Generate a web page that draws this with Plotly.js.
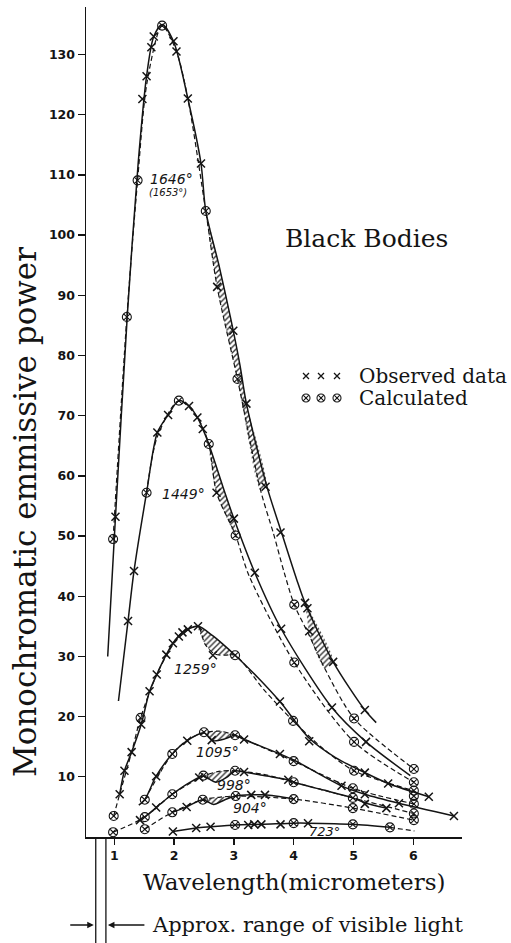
<!DOCTYPE html>
<html><head><meta charset="utf-8">
<script src="https://cdn.plot.ly/plotly-3.0.1.min.js"></script>
<style>html,body{margin:0;padding:0;background:#fff;}#chart{width:511px;height:943px;}</style>
</head><body><div id="chart"></div>
<script>
// ---------- DATA (wavelength in micrometers, monochromatic emissive power) ----------
const temperatures = ['1646', '1449', '1259', '1095', '998', '904', '723'];

// observed data points (x marks)
const obs1646 = [[1.02,53.2],[1.47,122.6],[1.54,126.4],[1.62,131.2],[1.66,133.0],[1.99,132.2],[2.04,130.5],[2.23,122.7],[2.45,111.9],[2.72,91.4],[2.99,84.1],[3.21,72.0],[3.53,58.2],[3.78,50.6],[4.19,38.9],[4.23,38.0],[4.26,34.2],[4.66,29.1],[5.19,21.1]];
const obs1449 = [[1.23,35.9],[1.33,44.2],[1.72,67.2],[1.90,70.1],[2.25,71.6],[2.39,69.7],[2.48,67.8],[2.71,57.2],[3.00,52.9],[3.35,43.9],[3.79,34.6],[4.64,21.5],[5.21,15.8]];
const obs1259 = [[1.09,7.1],[1.17,11.0],[1.29,14.1],[1.45,18.7],[1.59,24.2],[1.71,27.0],[1.87,30.3],[1.98,32.2],[2.08,33.3],[2.14,34.0],[2.23,34.5],[2.40,35.0],[2.65,30.2],[3.77,22.5],[4.26,15.9],[5.19,10.7],[5.58,8.9],[6.26,6.7]];
const obs1095 = [[1.70,10.1],[2.22,16.0],[2.63,16.1],[3.17,16.2],[3.77,13.8],[4.80,8.5],[5.19,7.1],[5.76,5.6],[6.68,3.5]];
const obs998  = [[1.43,2.8],[1.70,4.9],[2.42,9.9],[3.17,10.8],[3.91,9.5],[5.19,5.5],[5.55,4.8]];
const obs904  = [[2.21,5.0],[3.29,7.0],[3.52,7.0]];
const obs723  = [[1.98,0.9],[2.37,1.5],[2.61,1.7],[3.24,2.0],[3.34,2.1],[3.46,2.1],[3.78,2.1],[4.24,2.3]];

// calculated points (circled crosses)
const calc1646 = [[0.98,49.5],[1.21,86.4],[1.39,109.1],[1.80,134.8],[2.53,104.0],[3.06,76.1],[4.01,38.6],[5.01,19.7],[6.01,11.3]];
const calc1449 = [[1.54,57.2],[2.08,72.5],[2.58,65.3],[3.03,50.1],[4.01,29.0],[5.01,15.8],[6.01,9.1]];
const calc1259 = [[0.99,3.5],[1.44,19.8],[3.02,30.2],[3.99,19.3],[5.01,11.0],[6.01,7.7],[6.01,6.8]];
const calc1095 = [[1.51,6.2],[1.97,13.8],[2.50,17.4],[3.02,16.9],[4.00,12.6],[4.99,8.1],[6.01,5.5]];
const calc998  = [[0.98,0.8],[1.51,3.3],[1.97,7.1],[2.49,10.2],[3.02,11.0],[4.00,9.1],[4.99,6.5],[6.01,3.9]];
const calc904  = [[1.51,1.3],[1.97,4.1],[2.48,6.2],[3.03,6.8],[4.00,6.3],[4.99,4.8],[6.01,2.8]];
const calc723  = [[3.02,2.0],[4.00,2.3],[4.99,2.1],[5.61,1.6]];

// observed curves (solid lines)
const solid1646 = [[0.89,30.0],[1.02,53.2],[1.22,87.0],[1.40,112.0],[1.54,126.4],[1.66,133.0],[1.80,135.0],[1.99,132.2],[2.23,122.7],[2.45,111.9],[2.53,104.0],[2.75,95.0],[2.95,86.0],[3.10,78.5],[3.21,72.0],[3.55,58.3],[3.80,50.5],[4.05,42.8],[4.19,38.9],[4.66,29.1],[5.19,21.1],[5.38,19.0]];
const solid1449 = [[1.07,22.6],[1.23,35.9],[1.33,44.2],[1.54,57.2],[1.72,67.2],[1.90,70.1],[2.08,72.5],[2.25,71.6],[2.39,69.7],[2.48,67.8],[2.58,65.3],[2.85,57.2],[3.00,52.9],[3.35,43.9],[3.79,34.6],[4.64,21.5],[5.21,15.8],[5.95,10.2]];
const solid1259 = [[1.09,7.1],[1.17,11.0],[1.29,14.1],[1.45,18.7],[1.59,24.2],[1.71,27.0],[1.87,30.3],[1.98,32.2],[2.14,34.0],[2.40,35.0],[2.65,33.4],[2.82,32.0],[3.02,30.2],[3.40,26.5],[3.77,22.5],[4.26,16.4],[4.70,13.2],[5.19,10.7],[5.58,8.9],[6.26,6.7]];
const solid1095 = [[1.41,5.3],[1.51,6.2],[1.70,10.1],[1.97,13.8],[2.22,16.0],[2.50,17.3],[2.65,16.0],[2.85,16.3],[3.02,16.9],[3.17,16.2],[3.77,13.8],[4.00,12.8],[4.80,8.5],[5.19,7.1],[5.76,5.6],[6.68,3.5]];
const solid998  = [[1.51,3.3],[1.70,4.9],[1.97,7.1],[2.25,9.0],[2.49,10.1],[2.70,9.1],[2.88,9.9],[3.02,11.0],[3.17,10.8],[3.50,10.2],[3.91,9.5],[4.00,9.1],[4.50,7.8],[4.99,6.5],[5.19,5.7],[5.55,4.8]];
const solid904  = [[1.97,4.1],[2.21,5.0],[2.48,6.2],[2.66,5.4],[2.85,6.2],[3.03,6.8],[3.29,7.0],[3.52,7.0],[4.00,6.3]];
const solid723  = [[1.98,0.9],[2.37,1.5],[2.61,1.7],[3.02,2.0],[3.46,2.1],[4.00,2.3],[4.24,2.3],[4.99,2.1],[5.61,1.6]];

// calculated curves (dashed lines)
const dash1646 = [[0.98,49.5],[1.21,86.4],[1.39,109.1],[1.55,125.5],[1.80,134.8],[2.04,130.5],[2.23,122.7],[2.53,104.0],[2.72,91.4],[3.06,76.1],[3.45,57.5],[3.66,50.5],[3.84,44.0],[4.01,38.6],[4.26,33.5],[4.52,28.0],[5.01,19.7],[6.01,11.3]];
const dash1449 = [[1.54,57.2],[1.72,66.5],[2.08,72.5],[2.39,69.7],[2.58,65.3],[2.71,57.2],[3.03,50.1],[3.25,43.5],[4.01,29.0],[5.01,15.8],[6.01,9.1]];
const dash1259 = [[0.99,3.5],[1.09,7.1],[1.29,14.1],[1.44,19.8],[1.71,27.0],[2.00,32.2],[2.23,34.4],[2.40,35.0],[2.52,32.0],[2.68,30.4],[2.85,30.2],[3.02,30.2],[3.50,24.5],[3.99,19.3],[4.50,14.6],[5.01,11.0],[6.01,7.7]];
const dash1095 = [[1.51,6.2],[1.97,13.8],[2.25,16.3],[2.50,17.3],[2.75,17.6],[3.02,16.9],[3.50,14.8],[4.00,12.6],[4.99,8.1],[6.01,5.5]];
const dash998  = [[0.98,0.8],[1.51,3.3],[1.97,7.1],[2.49,10.1],[2.75,10.9],[3.02,11.0],[3.50,10.4],[4.00,9.1],[4.99,6.5],[6.01,3.9]];
const dash904  = [[1.51,1.3],[1.97,4.1],[2.48,6.2],[2.75,6.6],[3.03,6.8],[4.00,6.3],[4.99,4.8],[6.01,2.8]];
const dash723  = [[5.61,1.6],[6.02,1.0]];

// wavelength spans where observed and calculated curves are hatched
const hatch1646 = [[2.53,3.57],[4.19,4.66]];
const hatch1449 = [[2.58,3.03]];
const hatch1259 = [[2.40,3.02]];
const hatch1095 = [[2.50,3.02]];
const hatch998  = [[2.49,3.02]];
const hatch904  = [[2.48,3.03]];
const hatch723  = [];

const xTickVals = [1, 2, 3, 4, 5, 6];
const xTickText = ['1', '2', '3', '4', '5', '6'];
const yTickVals = [10, 20, 30, 40, 50, 60, 70, 80, 90, 100, 110, 120, 130];
const visibleBand = [0.69, 0.86];   // the two marker lines under the axis (micrometers)

// ---------- BUILD ----------
const series = {
  '1646': {obs: obs1646, calc: calc1646, solid: solid1646, dash: dash1646, hatch: hatch1646},
  '1449': {obs: obs1449, calc: calc1449, solid: solid1449, dash: dash1449, hatch: hatch1449},
  '1259': {obs: obs1259, calc: calc1259, solid: solid1259, dash: dash1259, hatch: hatch1259},
  '1095': {obs: obs1095, calc: calc1095, solid: solid1095, dash: dash1095, hatch: hatch1095},
  '998':  {obs: obs998,  calc: calc998,  solid: solid998,  dash: dash998,  hatch: hatch998},
  '904':  {obs: obs904,  calc: calc904,  solid: solid904,  dash: dash904,  hatch: hatch904},
  '723':  {obs: obs723,  calc: calc723,  solid: solid723,  dash: dash723,  hatch: hatch723}
};
const INK = '#141414';
const xs = a => a.map(p => p[0]);
const ys = a => a.map(p => p[1]);
const inRange = (a, r) => a.filter(p => p[0] >= r[0] - 1e-9 && p[0] <= r[1] + 1e-9);
const OBS_MARK = {symbol: 'x-thin-open', size: 8, color: INK, line: {width: 1.5, color: INK}};
const CALC_MARK = {symbol: 'circle-x-open', size: 9, color: INK, line: {width: 1.1, color: INK}};

const traces = [];
temperatures.forEach(T => {
  const s = series[T];
  s.hatch.forEach(r => {
    const poly = inRange(s.solid, r).concat(inRange(s.dash, r).reverse());
    traces.push({
      type: 'scatter', mode: 'lines', x: xs(poly), y: ys(poly),
      fill: 'toself', fillcolor: 'rgba(0,0,0,0)',
      fillpattern: {shape: '/', fgcolor: '#333', bgcolor: 'rgba(0,0,0,0)', size: 4, solidity: 0.35, fillmode: 'replace'},
      line: {width: 0, shape: 'spline', smoothing: 0.7},
      hoverinfo: 'skip', showlegend: false
    });
  });
  traces.push({
    type: 'scatter', mode: 'lines', name: T + '° calculated',
    x: xs(s.dash), y: ys(s.dash),
    line: {color: INK, width: 1.2, dash: '5px,3px', shape: 'spline', smoothing: 0.8},
    hoverinfo: 'skip', showlegend: false
  });
  traces.push({
    type: 'scatter', mode: 'lines', name: T + '° observed',
    x: xs(s.solid), y: ys(s.solid),
    line: {color: INK, width: 1.5, shape: 'spline', smoothing: 0.8},
    hoverinfo: 'skip', showlegend: false
  });
  traces.push({
    type: 'scatter', mode: 'markers', name: T + '° observed data',
    x: xs(s.obs), y: ys(s.obs), marker: OBS_MARK,
    hoverinfo: 'skip', showlegend: false
  });
  traces.push({
    type: 'scatter', mode: 'markers', name: T + '° calculated points',
    x: xs(s.calc), y: ys(s.calc), marker: CALC_MARK,
    hoverinfo: 'skip', showlegend: false
  });
});

// pixel helpers for free placement (plot area: x 86..462, y 7..837)
const px = v => (v - 86) / 376;
const py = v => (837 - v) / 830;

// legend key symbols, drawn on an invisible overlay axis pair spanning the plot area (0..1)
traces.push({
  type: 'scatter', mode: 'markers', xaxis: 'x2', yaxis: 'y2', name: 'key observed',
  x: [px(306), px(321), px(337)], y: [py(376), py(376), py(376)],
  marker: {symbol: 'x-thin-open', size: 6, color: INK, line: {width: 1.3, color: INK}},
  hoverinfo: 'skip', showlegend: false
});
traces.push({
  type: 'scatter', mode: 'markers', xaxis: 'x2', yaxis: 'y2', name: 'key calculated',
  x: [px(306), px(321), px(337)], y: [py(398), py(398), py(398)],
  marker: {symbol: 'circle-x-open', size: 8, color: INK, line: {width: 1.1, color: INK}},
  hoverinfo: 'skip', showlegend: false
});

const serif = 'DejaVu Serif, Liberation Serif, serif';
const ital = (size) => ({family: 'DejaVu Sans, sans-serif', size: size, style: 'italic', color: INK});

const annotations = [
  {xref: 'paper', yref: 'paper', x: px(25), y: py(512), text: 'Monochromatic emmissive power', textangle: -90,
   showarrow: false, xanchor: 'center', yanchor: 'middle', font: {family: serif, size: 31, color: INK}},
  {xref: 'paper', yref: 'paper', x: px(293.5), y: py(882), text: 'Wavelength(micrometers)',
   showarrow: false, xanchor: 'center', yanchor: 'middle', font: {family: serif, size: 23, color: INK}},
  {xref: 'paper', yref: 'paper', x: px(366), y: py(238), text: 'Black Bodies',
   showarrow: false, xanchor: 'center', yanchor: 'middle', font: {family: serif, size: 25, color: INK}},
  {xref: 'paper', yref: 'paper', x: px(357), y: py(376), text: 'Observed data',
   showarrow: false, xanchor: 'left', yanchor: 'middle', font: {family: serif, size: 20, color: INK}},
  {xref: 'paper', yref: 'paper', x: px(357), y: py(398), text: 'Calculated',
   showarrow: false, xanchor: 'left', yanchor: 'middle', font: {family: serif, size: 20, color: INK}},
  {xref: 'paper', yref: 'paper', x: px(150), y: py(925), text: 'Approx. range of visible light',
   showarrow: false, xanchor: 'left', yanchor: 'middle', font: {family: serif, size: 21, color: INK}},
  {xref: 'x', yref: 'paper', x: visibleBand[0], y: py(925), text: '', showarrow: true,
   ax: -27, ay: 0, standoff: 2, arrowhead: 2, arrowsize: 1, arrowwidth: 1.3, arrowcolor: INK},
  {xref: 'x', yref: 'paper', x: visibleBand[1], y: py(925), text: '', showarrow: true,
   ax: 40, ay: 0, standoff: 2, arrowhead: 2, arrowsize: 1, arrowwidth: 1.3, arrowcolor: INK},
  // temperature labels
  {xref: 'x', yref: 'y', x: 1.95, y: 109.4, text: '1646°', showarrow: false, font: ital(14)},
  {xref: 'x', yref: 'y', x: 1.90, y: 107.0, text: '(1653°)', showarrow: false, font: ital(10)},
  {xref: 'x', yref: 'y', x: 2.15, y: 57.0, text: '1449°', showarrow: false, font: ital(14)},
  {xref: 'x', yref: 'y', x: 2.35, y: 27.9, text: '1259°', showarrow: false, font: ital(14)},
  {xref: 'x', yref: 'y', x: 2.72, y: 14.1, text: '1095°', showarrow: false, font: ital(14)},
  {xref: 'x', yref: 'y', x: 3.00, y: 8.6, text: '998°', showarrow: false, font: ital(14)},
  {xref: 'x', yref: 'y', x: 3.27, y: 4.8, text: '904°', showarrow: false, font: ital(14)},
  {xref: 'x', yref: 'y', x: 4.52, y: 0.9, text: '723°', showarrow: false, font: ital(13)}
];

const shapes = visibleBand.map(v => ({
  type: 'line', xref: 'x', yref: 'paper', x0: v, x1: v, y0: 0, y1: py(943),
  line: {color: INK, width: 1.3}
}));

const tickFont = {family: 'DejaVu Sans, sans-serif', size: 12.5, weight: 'bold', color: INK};
const layout = {
  width: 511, height: 943,
  margin: {l: 86, r: 49, t: 7, b: 106, pad: 0},
  paper_bgcolor: '#fff', plot_bgcolor: '#fff',
  showlegend: false,
  xaxis: {range: [0.527, 6.815], showline: true, linecolor: INK, linewidth: 1.5, mirror: false,
          ticks: 'outside', ticklen: 6, tickwidth: 1.3, tickcolor: INK,
          tickvals: xTickVals, ticktext: xTickText, tickfont: tickFont,
          showgrid: false, zeroline: false, fixedrange: true},
  yaxis: {range: [0, 137.9], showline: true, linecolor: INK, linewidth: 1.5, mirror: false,
          ticks: 'outside', ticklen: 7, tickwidth: 1.3, tickcolor: INK,
          tickvals: yTickVals, tickfont: tickFont,
          showgrid: false, zeroline: false, fixedrange: true},
  xaxis2: {overlaying: 'x', range: [0, 1], visible: false, fixedrange: true},
  yaxis2: {overlaying: 'y', range: [0, 1], visible: false, fixedrange: true},
  annotations: annotations,
  shapes: shapes
};

Plotly.newPlot('chart', traces, layout, {displayModeBar: false, staticPlot: true});
</script></body></html>
